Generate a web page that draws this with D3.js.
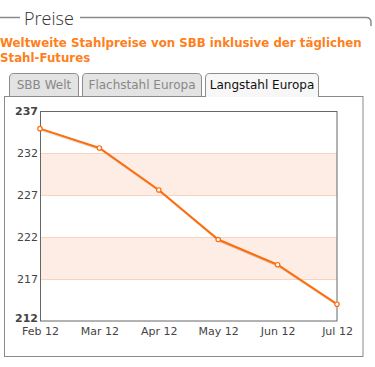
<!DOCTYPE html>
<html><head><meta charset="utf-8">
<script src="https://cdn.jsdelivr.net/npm/d3@7"></script>
<style>
html,body{margin:0;padding:0;background:#fff;}
svg{display:block;}
</style></head>
<body>
<svg id="c" width="375" height="367"></svg>
<script>
const months = ["Feb 12","Mar 12","Apr 12","May 12","Jun 12","Jul 12"];
const prices = [234.9, 232.6, 227.6, 221.7, 218.7, 214.0];
const yTicks = [212,217,222,227,232,237];
const bands = [[227,232],[217,222]];
const tabs = ["SBB Welt","Flachstahl Europa","Langstahl Europa"];
const activeTab = 2;
const heading = "Preise";
const titleLines = ["Weltweite Stahlpreise von SBB inklusive der täglichen","Stahl-Futures"];

const svg = d3.select("#c");
const font = "Verdana, 'DejaVu Sans', sans-serif";

// fieldset header
svg.append("path").attr("d","M0,17.5 H20 M80,17.5 H366 Q371,17.5 371,22.5 V26")
  .attr("fill","none").attr("stroke","#8a8a8a").attr("stroke-width",1.5);
svg.append("text").attr("x",24).attr("y",25).text(heading)
  .attr("font-family","'Open Sans', 'Liberation Sans', sans-serif").attr("font-weight",300)
  .attr("font-size",18).attr("fill","#333");

// title
svg.selectAll("text.title").data(titleLines).join("text").attr("class","title")
  .attr("x",0).attr("y",(d,i)=>47+i*15).text(d=>d)
  .attr("font-family",font).attr("font-weight","bold").attr("font-size",11.8)
  .attr("fill","#ff7f1c");

// tabs
const tabX = [[9,79],[82,202],[205,319]];
tabs.forEach((t,i)=>{
  const [x0,x1]=tabX[i];
  const g=svg.append("g");
  g.append("path").attr("d",`M${x0+0.5},97 V${78} Q${x0+0.5},73.5 ${x0+4.5},73.5 H${x1-4.5} Q${x1-0.5},73.5 ${x1-0.5},78 V97`)
    .attr("fill", i===activeTab?"#f7f7f7":"#e3e3e3").attr("stroke","#8c8c8c").attr("stroke-width",1);
  g.append("text").attr("x",(x0+x1)/2).attr("y",89).attr("text-anchor","middle").text(t)
    .attr("font-family",font).attr("font-size",12).attr("fill", i===activeTab?"#111":"#888");
});

// panel
svg.append("rect").attr("x",4.5).attr("y",96.5).attr("width",358.5).attr("height",260)
  .attr("fill","#fff").attr("stroke","#8a8a8a").attr("stroke-width",1);
svg.append("line").attr("x1",206).attr("x2",318).attr("y1",96.5).attr("y2",96.5).attr("stroke","#f7f7f7").attr("stroke-width",1.2);

// chart
const x = d3.scalePoint().domain(months).range([40,337]);
const y = d3.scaleLinear().domain([212,237]).range([321,111]);

const plot = svg.append("g");
plot.selectAll("rect.band").data(bands).join("rect").attr("class","band")
  .attr("x",40).attr("width",297).attr("y",d=>y(d[1])).attr("height",d=>y(d[0])-y(d[1]))
  .attr("fill","#fdede4");
plot.selectAll("line.grid").data(yTicks.slice(1,-1)).join("line").attr("class","grid")
  .attr("x1",40).attr("x2",337).attr("y1",d=>Math.round(y(d))+0.5).attr("y2",d=>Math.round(y(d))+0.5)
  .attr("stroke","#f8d3bf").attr("stroke-width",1);

const yAxis = svg.append("g").attr("transform","translate(40,0)")
  .call(d3.axisLeft(y).tickValues(yTicks).tickSize(0).tickPadding(2).tickFormat(d3.format("d")));
yAxis.select(".domain").remove();
yAxis.selectAll("text").attr("font-family",font).attr("font-size",11).attr("fill","#444")
  .attr("font-weight",d=>(d===212||d===237)?"bold":"normal");
yAxis.selectAll(".tick").filter(d=>d===212).select("text").attr("dy","0.05em");

const xAxis = svg.append("g").attr("transform","translate(0,321)")
  .call(d3.axisBottom(x).tickSize(0).tickPadding(6));
xAxis.select(".domain").remove();
xAxis.selectAll("text").attr("font-family",font).attr("font-size",11).attr("fill","#444");

// border
svg.append("rect").attr("x",40.5).attr("y",111.5).attr("width",296.5).attr("height",209.5)
  .attr("fill","none").attr("stroke","#666").attr("stroke-width",1);

// line shadow + line
const line = d3.line().x((d,i)=>x(months[i])).y(d=>y(d));
svg.append("path").datum(prices).attr("d",line).attr("fill","none")
  .attr("stroke","rgba(0,0,0,0.12)").attr("stroke-width",2).attr("transform","translate(1,1.5)");
svg.append("path").datum(prices).attr("d",line).attr("fill","none")
  .attr("stroke","#ff6c0a").attr("stroke-width",2);
svg.selectAll("circle.pt").data(prices).join("circle").attr("class","pt")
  .attr("cx",(d,i)=>x(months[i])).attr("cy",d=>y(d)).attr("r",2.2)
  .attr("fill","#fff").attr("stroke","#ff6c0a").attr("stroke-width",1.2);
</script>
</body></html>
